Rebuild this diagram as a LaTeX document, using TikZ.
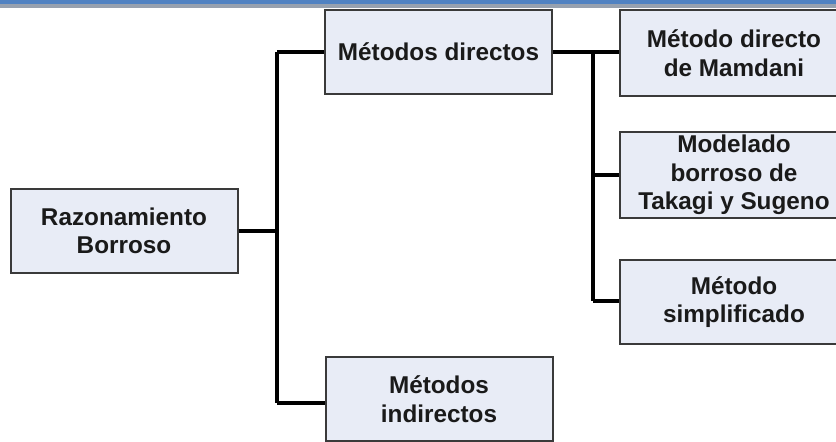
\documentclass[tikz,border=0pt]{standalone}
\usepackage{fontspec}
\setmainfont{Liberation Sans}
\definecolor{boxfill}{HTML}{E8ECF6}
\definecolor{boxline}{HTML}{3A3A3A}
\definecolor{topblue}{HTML}{5082C2}
\definecolor{topgray}{HTML}{97A1AF}
\definecolor{txt}{HTML}{1A1A1A}
\begin{document}
\begin{tikzpicture}[x=1pt,y=-1pt,
  box/.style={draw=boxline, fill=boxfill, line width=2pt, align=center,
    minimum width=227pt, inner sep=0pt, text=txt,
    font=\fontsize{24.3pt}{28.5pt}\selectfont\bfseries},
  conn/.style={line width=4.5pt, black}]
\clip (0,0) rectangle (836,442);
\fill[white] (0,0) rectangle (836,442);
\fill[topblue] (0,0) rectangle (836,3.5);
\fill[topgray] (0,3.5) rectangle (836,7.5);
\node[box, minimum height=84pt] (rb) at (124,231) {Razonamiento\\Borroso};
\node[box, minimum height=84pt] (md) at (438.5,52) {Métodos directos};
\node[box, minimum height=84pt] (mi) at (439,399) {Métodos\\indirectos};
\node[box, minimum height=86pt, minimum width=228pt] (m1) at (734,53) {Método directo\\de Mamdani};
\node[box, minimum height=86pt, minimum width=228pt] (m2) at (734,175) {Modelado\\borroso de\\Takagi y Sugeno};
\node[box, minimum height=84pt, minimum width=228pt] (m3) at (734,302) {Método\\simplificado};
\coordinate (t1) at (277,52);
\coordinate (t2) at (277,403);
\coordinate (u1) at (593,52);
\coordinate (u2) at (593,301);
\draw[conn] (t1) -- (t2);
\draw[conn] (rb.east) -- (rb.east -| t1);
\draw[conn] (t1) -- (md.west);
\draw[conn] (t2) -- (t2 -| mi.west);
\draw[conn] (md.east) -- (m1.west |- md.east);
\draw[conn] (u1) -- (u2);
\draw[conn] (m2.west -| u1) -- (m2.west);
\draw[conn] (u2) -- (u2 -| m3.west);
\end{tikzpicture}
\end{document}
